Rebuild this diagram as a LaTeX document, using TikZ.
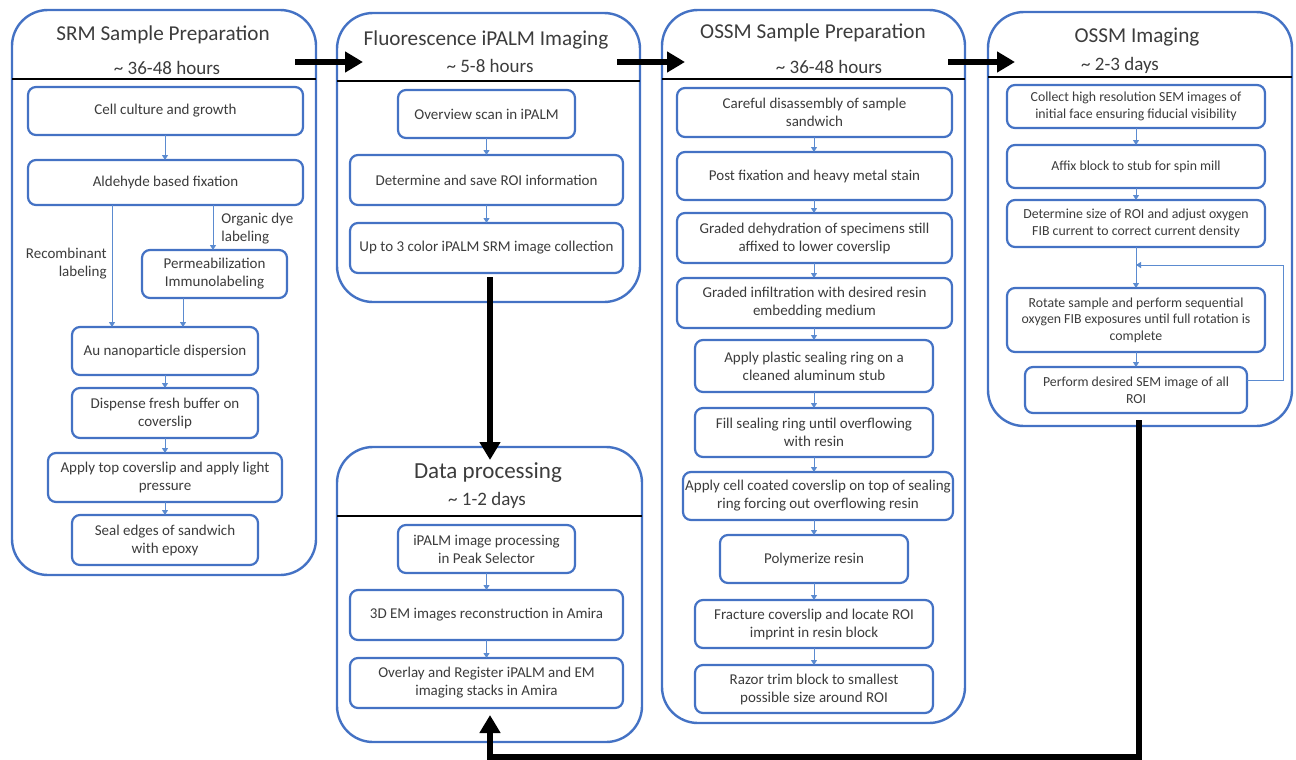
\documentclass[tikz,border=0pt]{standalone}
\usepackage{fontspec}
\setmainfont{Carlito}
\usetikzlibrary{arrows.meta}
\definecolor{bl}{HTML}{4472C4}
\definecolor{abl}{HTML}{5B8BD0}
\definecolor{tx}{HTML}{3C3C3C}
\newcommand\stepbx[7][]{\node[stepbox,#1,minimum width={0.5pt*(#5-#3)},minimum height={0.5pt*(#6-#4)}] (#2) at ({(#3+#5)/2},{(#4+#6)/2}) {#7};}
\newcommand\panelbx[5]{\node[panel,minimum width={0.5pt*(#4-#2)},minimum height={0.5pt*(#5-#3)}] (#1) at ({(#2+#4)/2},{(#3+#5)/2}) {};}
\tikzset{
  stepbox/.style={draw=bl,line width=1.1pt,rounded corners=4pt,fill=white,inner sep=0pt,outer sep=0pt,align=center,text=tx,font=\fontsize{7.5}{9}\selectfont},
  small/.style={font=\fontsize{6.9}{8.3}\selectfont},
  panel/.style={draw=bl,line width=1.2pt,rounded corners=18pt,inner sep=0pt,outer sep=0pt},
  flow/.style={draw=abl,line width=0.5pt,-{Triangle[length=2.5pt,width=3pt]}},
  plain/.style={draw=abl,line width=0.5pt},
  big/.style={draw=black,line width=3pt,-{Triangle[length=9pt,width=10pt]}},
  hdr/.style={draw=black,line width=1pt},
  ttl/.style={text=tx,font=\fontsize{10.6}{12}\selectfont},
  sub/.style={text=tx,font=\fontsize{9.5}{11}\selectfont},
  lbl/.style={text=tx,font=\fontsize{7.5}{9}\selectfont,inner sep=0pt},
}
\begin{document}
\begin{tikzpicture}[x=0.5pt,y=-0.5pt]
\useasboundingbox (0,0) rectangle (1296,760);
% panels
\panelbx{p1}{12}{10}{316}{575}
\panelbx{p2}{337}{13}{640}{302}
\panelbx{pd}{337}{447}{642}{742}
\panelbx{p3}{662}{10}{965}{723}
\panelbx{p4}{988}{12}{1292}{426}
% headers
\draw[hdr] (p1.west |- 0,79) -- (p1.east |- 0,79);
\draw[hdr] (p2.west |- 0,81) -- (p2.east |- 0,81);
\draw[hdr] (pd.west |- 0,516) -- (pd.east |- 0,516);
\draw[hdr] (p3.west |- 0,79) -- (p3.east |- 0,79);
\draw[hdr] (p4.west |- 0,77) -- (p4.east |- 0,77);
\node[ttl] (t1) at (163,35) {SRM Sample Preparation};
\node[sub] (s1) at (167,68) {\textasciitilde\ 36-48 hours};
\node[ttl] (t2) at (486,40) {Fluorescence iPALM Imaging};
\node[sub] (s2) at (490,66) {\textasciitilde\ 5-8 hours};
\node[ttl,font=\fontsize{11.5}{13}\selectfont] (td) at (488,473) {Data processing};
\node[sub] (sd) at (487,500) {\textasciitilde\ 1-2 days};
\node[ttl] (t3) at (813,33) {OSSM Sample Preparation};
\node[sub] (s3) at (829,67) {\textasciitilde\ 36-48 hours};
\node[ttl] (t4) at (1137,37) {OSSM Imaging};
\node[sub] (s4) at (1120,65) {\textasciitilde\ 2-3 days};
% panel 1 steps
\stepbx{a1}{28}{87}{303}{135}{Cell culture and growth}
\stepbx{a2}{28}{160}{303}{205}{Aldehyde based fixation}
\stepbx{a3}{142}{250}{287}{298}{Permeabilization\\Immunolabeling}
\stepbx{a4}{72}{327}{258}{375}{Au nanoparticle dispersion}
\stepbx{a5}{72}{388}{258}{438}{Dispense fresh buffer on\\coverslip}
\stepbx{a6}{48}{453}{282}{502}{Apply top coverslip and apply light\\pressure}
\stepbx{a7}{72}{515}{258}{565}{Seal edges of sandwich\\with epoxy}
\node[lbl,align=left,anchor=west] (l1) at (221,229) {Organic dye\\labeling};
\node[lbl,align=right,anchor=east] (l2) at (107,264) {Recombinant\\labeling};
\draw[flow] (165,0 |- a1.south) -- (165,0 |- a2.north);
\draw[flow] (112,0 |- a2.south) -- (112,0 |- a4.north);
\draw[flow] (213,0 |- a2.south) -- (213,0 |- a3.north);
\draw[flow] (183,0 |- a3.south) -- (183,0 |- a4.north);
\draw[flow] (a4.south) -- (a5.north);
\draw[flow] (a5.south) -- (a6.north);
\draw[flow] (a6.south -| a7.south) -- (a7.north);
% panel 2 steps
\stepbx{b1}{398}{90}{575}{138}{Overview scan in iPALM}
\stepbx{b2}{350}{155}{623}{205}{Determine and save ROI information}
\stepbx{b3}{350}{223}{623}{273}{Up to 3 color iPALM SRM image collection}
\draw[flow] (b1.south) -- (b2.north);
\draw[flow] (b2.south) -- (b3.north);
% data processing
\stepbx{d1}{398}{525}{575}{573}{iPALM image processing\\in Peak Selector}
\stepbx{d2}{350}{590}{623}{640}{3D EM images reconstruction in Amira}
\stepbx{d3}{350}{658}{623}{708}{Overlay and Register iPALM and EM\\imaging stacks in Amira}
\draw[flow] (d1.south) -- (d2.north);
\draw[flow] (d2.south) -- (d3.north);
% panel 3 steps
\stepbx{c1}{677}{88}{952}{137}{Careful disassembly of sample\\sandwich}
\stepbx{c2}{677}{152}{952}{200}{Post fixation and heavy metal stain}
\stepbx{c3}{677}{213}{952}{263}{Graded dehydration of specimens still\\affixed to lower coverslip}
\stepbx{c4}{677}{278}{952}{328}{Graded infiltration with desired resin\\embedding medium}
\stepbx{c5}{695}{340}{933}{392}{Apply plastic sealing ring on a\\cleaned aluminum stub}
\stepbx{c6}{695}{408}{933}{457}{Fill sealing ring until overflowing\\with resin}
\stepbx{c7}{683}{472}{953}{520}{Apply cell coated coverslip on top of sealing\\ring forcing out overflowing resin}
\stepbx{c8}{720}{535}{908}{583}{Polymerize resin}
\stepbx{c9}{695}{600}{933}{648}{Fracture coverslip and locate ROI\\imprint in resin block}
\stepbx{c10}{695}{665}{933}{713}{Razor trim block to smallest\\possible size around ROI}
\foreach \u/\v in {c1/c2,c2/c3,c3/c4,c4/c5,c5/c6,c6/c7,c7/c8,c8/c9,c9/c10}
  \draw[flow] (814,0 |- \u.south) -- (814,0 |- \v.north);
% panel 4 steps
\stepbx[small]{e1}{1007}{85}{1265}{128}{Collect high resolution SEM images of\\initial face ensuring fiducial visibility}
\stepbx[small]{e2}{1007}{145}{1265}{188}{Affix block to stub for spin mill}
\stepbx[small]{e3}{1007}{200}{1265}{247}{Determine size of ROI and adjust oxygen\\FIB current to correct current density}
\stepbx[small]{e4}{1007}{288}{1265}{352}{Rotate sample and perform sequential\\oxygen FIB exposures until full rotation is\\complete}
\stepbx[small]{e5}{1025}{367}{1247}{413}{Perform desired SEM image of all\\ROI}
\draw[flow] (e1.south) -- (e2.north);
\draw[flow] (e2.south) -- (e3.north);
\draw[flow] (e3.south) -- (e4.north);
\draw[flow] (e4.south) -- (e5.north);
\coordinate (fb1) at (1283,380);
\coordinate (fb2) at (1283,265);
\draw[flow] (e5.east |- fb1) -- (fb1) -- (fb2) -- (e3.south |- fb2);
% big arrows
\coordinate (h1a) at (295,62); \coordinate (h1b) at (363,62);
\coordinate (h2a) at (617,62); \coordinate (h2b) at (685,62);
\coordinate (h3a) at (948,62); \coordinate (h3b) at (1015,62);
\draw[big] (h1a) -- (h1b);
\draw[big] (h2a) -- (h2b);
\draw[big] (h3a) -- (h3b);
\coordinate (v1a) at (490,277); \coordinate (v1b) at (490,460);
\draw[big] (v1a) -- (v1b);
\coordinate (r1) at (1139,420);
\coordinate (r2) at (1139,757);
\coordinate (r3) at (490,757);
\coordinate (r4) at (490,715);
\draw[big,line join=miter] (r1) -- (r2) -- (r3) -- (r4);
\end{tikzpicture}
\end{document}
